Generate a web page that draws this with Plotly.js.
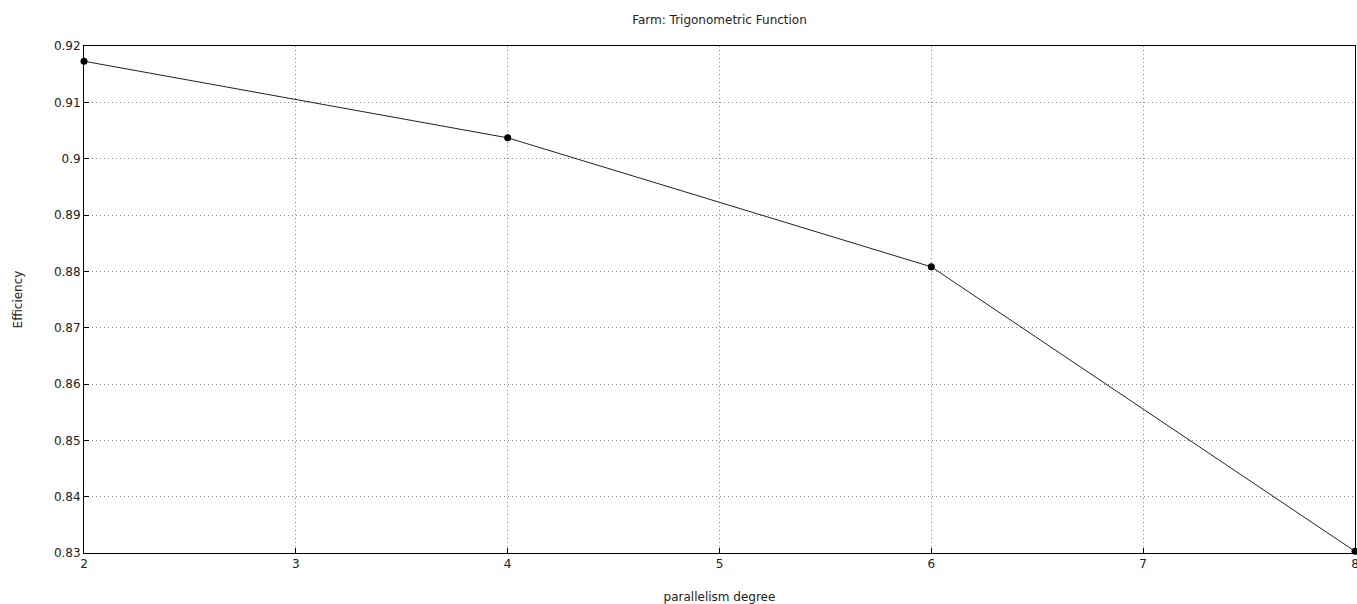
<!DOCTYPE html>
<html>
<head>
<meta charset="utf-8">
<script src="https://cdn.plot.ly/plotly-3.0.1.min.js"></script>
<style>html,body{margin:0;padding:0;background:#fff;}#chart{width:1357px;height:604px;}</style>
</head>
<body>
<div id="chart"></div>
<script>
const parallelism = [2, 4, 6, 8];
const efficiency = [0.9173, 0.9037, 0.8808, 0.8303];
const xTicks = [2, 3, 4, 5, 6, 7, 8];
const yTicks = [0.83, 0.84, 0.85, 0.86, 0.87, 0.88, 0.89, 0.9, 0.91, 0.92];
const yTickText = ['0.83','0.84','0.85','0.86','0.87','0.88','0.89','0.9','0.91','0.92'];

const font = {family: 'DejaVu Sans, sans-serif', size: 12, color: '#222'};

const trace = {
  x: parallelism, y: efficiency, type: 'scatter', mode: 'lines+markers',
  line: {color: '#222', width: 1},
  marker: {color: '#000', size: 7},
  cliponaxis: false, hoverinfo: 'skip'
};

const layout = {
  width: 1357, height: 604,
  margin: {l: 84, r: 2, t: 46, b: 51},
  paper_bgcolor: '#fff', plot_bgcolor: '#fff',
  font: font,
  showlegend: false,
  title: {text: 'Farm: Trigonometric Function', font: {family: 'DejaVu Sans, sans-serif', size: 12, color: '#222'}, x: 0.5, xanchor: 'center', y: 0.968, yanchor: 'middle', xref: 'paper'},
  xaxis: {
    range: [2, 8], tickvals: xTicks, ticktext: xTicks.map(String),
    showgrid: true, gridcolor: '#888', griddash: '1px,3px', gridwidth: 1,
    showline: true, linecolor: '#000', linewidth: 1, mirror: true,
    ticks: 'inside', ticklen: 5, tickcolor: '#000',
    ticklabeloverflow: 'allow',
    zeroline: false, tickfont: font,
    title: {text: 'parallelism degree', font: font, standoff: 24}
  },
  yaxis: {
    range: [0.83, 0.92], tickvals: yTicks, ticktext: yTickText,
    showgrid: true, gridcolor: '#888', griddash: '1px,3px', gridwidth: 1,
    showline: true, linecolor: '#000', linewidth: 1, mirror: true,
    ticks: 'inside', ticklen: 5, tickcolor: '#000',
    zeroline: false, tickfont: font,
    title: {text: 'Efficiency', font: font, standoff: 28}
  }
};

Plotly.newPlot('chart', [trace], layout, {displayModeBar: false, staticPlot: true});
</script>
</body>
</html>
